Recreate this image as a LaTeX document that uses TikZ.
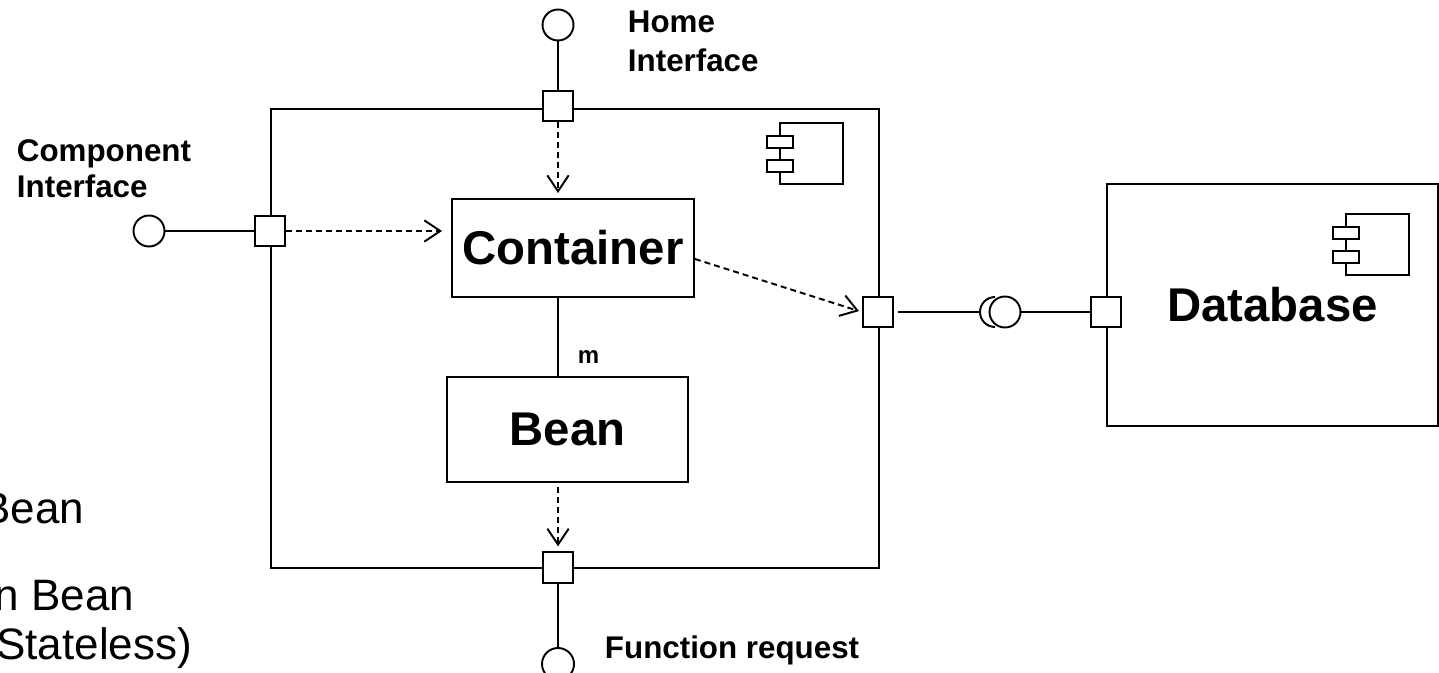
\documentclass[tikz,border=0pt]{standalone}
\usepackage{fontspec}
\setmainfont{Liberation Sans}
\usetikzlibrary{arrows.meta}
\tikzset{
  compicon/.pic={
    \draw[line width=1.2pt] (0,0) rectangle (63,61);
    \draw[line width=1.2pt, fill=white] (-13,13) rectangle (13,25);
    \draw[line width=1.2pt, fill=white] (-13,37) rectangle (13,49);
  }
}
\begin{document}
\begin{tikzpicture}[x=0.75pt, y=-0.75pt, line width=1.45pt,
  box/.style={draw, fill=white, inner sep=0pt},
  port/.style={draw, fill=white, inner sep=0pt, minimum size=22.75pt},
  ball/.style={draw, circle, fill=white, inner sep=0pt, minimum size=23.25pt},
  dep/.style={dash pattern=on 4.5pt off 3pt, -{Straight Barb[length=12pt, width=16pt]}},
  bigtext/.style={font=\fontsize{35.5}{42}\selectfont\bfseries},
  lab/.style={font=\fontsize{23.5}{28}\selectfont\bfseries, inner sep=0pt, anchor=base west},
  side/.style={font=\fontsize{33}{40}\selectfont, inner sep=0pt, anchor=base east}
]
\useasboundingbox (0,0) rectangle (1439,673);

% enclosing EJB component
\node[draw, inner sep=0pt, minimum width=456pt, minimum height=344.25pt] (ejb) at (575,338.5) {};
\pic at (780,123) {compicon};

% inner parts
\node[box, bigtext, minimum width=181.5pt, minimum height=73.5pt] (cont) at (573,248) {Container};
\node[box, bigtext, minimum width=180.75pt, minimum height=78.75pt] (bean) at (567.5,429.5) {Bean};

% database component
\node[box, bigtext, minimum width=248.25pt, minimum height=181.5pt] (db) at (1272.5,305) {Database};
\pic at (1346,214) {compicon};

% ports
\node[port] (tport) at (558,106) {};
\node[port] (lport) at (270,231) {};
\node[port] (rport) at (878,312) {};
\node[port] (bport) at (558,567.5) {};
\node[port] (dbport) at (1106,312) {};

% provided / required interfaces
\node[ball] (homeball) at (558,25) {};
\node[ball] (compball) at (149,231) {};
\node[ball] (dbball) at (1005,312) {};
\node[ball, minimum size=24pt] (reqball) at (558,664) {};
\coordinate (sockL) at (980,312);
\draw (995,297) arc[start angle=90, end angle=270, radius=11.25pt];

% solid connectors
\draw (homeball.south) -- (tport.north);
\draw (compball.east) -- (lport.west);
\draw (cont.south -| tport) -- (bean.north -| tport);
\draw (bport.south) -- (reqball.north);
\draw[shorten <=3pt] (rport.east) -- (sockL);
\draw (dbball.east) -- (dbport.west);

% dependencies
\draw[dep, shorten >=3.75pt] (tport.south) -- (tport.south |- cont.north);
\draw[dep, shorten >=6.75pt] (lport.east) -- (lport.east -| cont.west);
\draw[dep, shorten >=2.25pt] ([yshift=-8.25pt]cont.east) -- (rport.west);
\draw[dep, shorten <=3pt, shorten >=3.75pt] (bean.south -| bport) -- (bport.north);

% labels
\node[font=\fontsize{18}{22}\selectfont\bfseries, inner sep=0pt, anchor=base] (mult) at (588.5,364) {m};
\node[lab] (home1) at (627,33) {Home};
\node[lab] (home2) at (627,72) {Interface};
\node[lab] (comp1) at (16,162) {Component};
\node[lab] (comp2) at (16,198) {Interface};
\node[lab] (freq) at (604,658) {Function request};

% side notes
\node[side] (note1) at (85,523) {Bean};
\node[side] (note2) at (135,610) {n Bean};
\node[side] (note3) at (193,659) {Stateless)};
\end{tikzpicture}
\end{document}
